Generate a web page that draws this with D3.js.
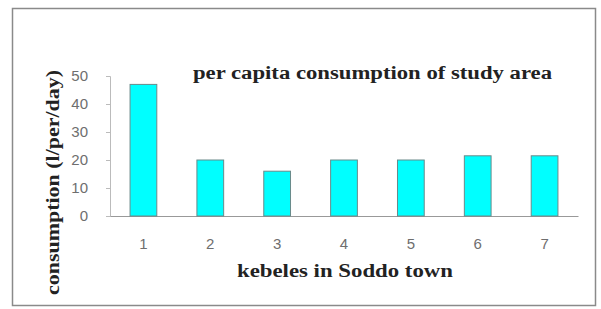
<!DOCTYPE html>
<html>
<head>
<meta charset="utf-8">
<script src="https://cdn.jsdelivr.net/npm/d3@7"></script>
<style>
  body { margin: 0; background: #fff; }
  .tick text { font-family: "Liberation Sans", Arial, sans-serif; fill: #6e6e6e; }
  .ttl { font-family: "Liberation Serif", "Times New Roman", serif; font-weight: bold; fill: #222; }
</style>
</head>
<body>
<div id="chart"></div>
<script>
var kebeles = ["1", "2", "3", "4", "5", "6", "7"];
var consumption = [47, 20, 16, 20, 20, 21.5, 21.5];
var yTicks = [0, 10, 20, 30, 40, 50];

var W = 601, H = 309;
var margin = {top: 76, right: 23, bottom: 93, left: 110};
var width = 578 - margin.left,
    height = 216 - margin.top;

var svg = d3.select('#chart')
  .append('svg')
    .attr('width', W)
    .attr('height', H);

// outer frame
svg.append('rect')
  .attr('x', 12.5).attr('y', 8.5)
  .attr('width', 583).attr('height', 297)
  .attr('fill', 'none')
  .attr('stroke', '#8a8a8a')
  .attr('stroke-width', 1.5);

var g = svg.append('g')
  .attr('transform', 'translate(' + margin.left + ',' + margin.top + ')');

var x = d3.scaleBand().domain(kebeles).range([0, width]).paddingInner(0.6).paddingOuter(0.3);
var y = d3.scaleLinear().domain([0, 50]).range([height, 0]);

// y axis
var yAxis = g.append('g')
  .call(d3.axisLeft(y).tickValues(yTicks).tickSize(4).tickPadding(18));
yAxis.select('.domain').attr('stroke', '#bbb');
yAxis.selectAll('.tick line').attr('stroke', '#bbb');
yAxis.selectAll('.tick text').style('font-size', '15px');

// x axis
var xAxis = g.append('g')
  .attr('transform', 'translate(0,' + height + ')')
  .call(d3.axisBottom(x).tickSize(0).tickPadding(22));
xAxis.select('.domain').attr('stroke', '#999');
xAxis.selectAll('.tick text').style('font-size', '15px');

// bars
g.selectAll('.bar')
  .data(consumption)
  .enter().append('rect')
    .attr('class', 'bar')
    .attr('x', function(d, i) { return x(kebeles[i]); })
    .attr('y', function(d) { return y(d); })
    .attr('width', x.bandwidth())
    .attr('height', function(d) { return height - y(d); })
    .attr('fill', '#00ffff')
    .attr('stroke', '#6a8a8a')
    .attr('stroke-width', 1);

// title
svg.append('text')
  .attr('class', 'ttl')
  .attr('x', 193).attr('y', 79)
  .attr('textLength', 359)
  .attr('lengthAdjust', 'spacingAndGlyphs')
  .style('font-size', '18.5px')
  .text('per capita consumption of study area');

// x label
svg.append('text')
  .attr('class', 'ttl')
  .attr('x', 237).attr('y', 277)
  .attr('textLength', 216)
  .attr('lengthAdjust', 'spacingAndGlyphs')
  .style('font-size', '18.5px')
  .text('kebeles in  Soddo town');

// y label
svg.append('text')
  .attr('class', 'ttl')
  .attr('transform', 'translate(59,295) rotate(-90)')
  .attr('textLength', 225)
  .attr('lengthAdjust', 'spacingAndGlyphs')
  .style('font-size', '18px')
  .text('consumption  (l/per/day)');
</script>
</body>
</html>
